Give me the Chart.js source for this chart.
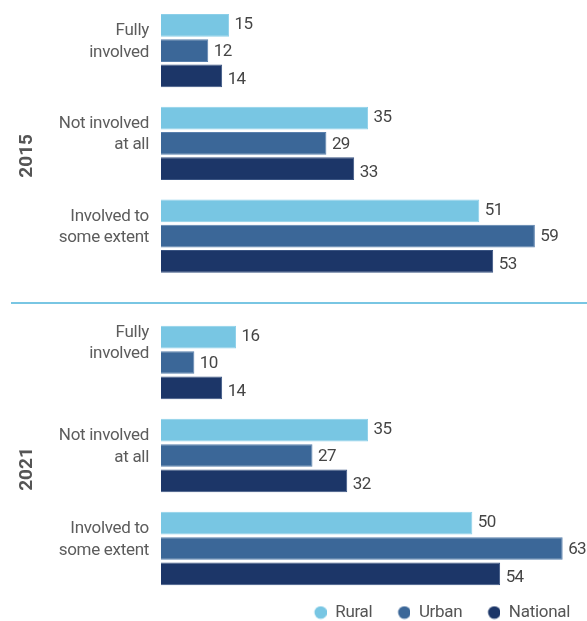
<!DOCTYPE html>
<html><head><meta charset="utf-8">
<script src="https://cdn.jsdelivr.net/npm/chart.js@4.4.1/dist/chart.umd.min.js"></script>
<style>
html,body{margin:0;padding:0;background:#fff;overflow:hidden;width:587px;height:621px;}
#w1{position:absolute;left:0;top:0;width:587px;height:290px;}
#w2{position:absolute;left:0;top:300px;width:587px;height:331px;}
#sep{position:absolute;left:11px;top:302px;width:576px;height:2px;background:#79c6e3;}
</style></head><body>
<div id="w1"><canvas id="c1"></canvas></div>
<div id="sep"></div>
<div id="w2"><canvas id="c2"></canvas></div>
<script>
// ---- data ----
const categories = [['Fully','involved'],['Not involved','at all'],['Involved to','some extent']];
const seriesNames = ['Rural','Urban','National'];
const years = ['2015','2021'];
const rural2015 = [15, 35, 51];
const urban2015 = [12, 29, 59];
const national2015 = [14, 33, 53];
const rural2021 = [16, 35, 50];
const urban2021 = [10, 27, 63];
const national2021 = [14, 32, 54];

// ---- style ----
const FONT = "'Liberation Sans Narrow', 'Roboto', sans-serif";
const LS = '-0.3px';
const colors = ['#78c6e3', '#3b6798', '#1c3668'];
const borders = ['#8ccfe9', '#5a80ad', '#3a5482'];
Chart.defaults.font.family = FONT;
Chart.defaults.font.size = 17;

const spacingPlugin = {
  id: 'spacing',
  beforeLayout(chart){ chart.ctx.letterSpacing = LS; },
  beforeDraw(chart){ chart.ctx.letterSpacing = LS; }
};
const valuePlugin = {
  id: 'valueLabels',
  afterDatasetsDraw(chart, args, opts){
    const ctx = chart.ctx;
    ctx.save();
    ctx.letterSpacing = '-0.6px';
    ctx.font = '17px ' + FONT;
    ctx.fillStyle = '#454545';
    ctx.textAlign = 'left';
    ctx.textBaseline = 'middle';
    chart.data.datasets.forEach((ds, i) => {
      const meta = chart.getDatasetMeta(i);
      meta.data.forEach((el, j) => {
        ctx.fillText(String(ds.data[j]), el.x + 5.5, el.y + opts.dy[i]);
      });
    });
    ctx.restore();
  }
};
const yearPlugin = {
  id: 'yearLabel',
  afterDraw(chart, args, opts){
    const ctx = chart.ctx, a = chart.chartArea;
    ctx.save();
    ctx.letterSpacing = '0px';
    ctx.translate(27, (a.top + a.bottom) / 2 + opts.shift);
    ctx.rotate(-Math.PI / 2);
    ctx.font = 'bold 19px ' + FONT;
    ctx.fillStyle = '#555555';
    ctx.textAlign = 'center';
    ctx.textBaseline = 'middle';
    ctx.fillText(opts.text, 0, 0);
    ctx.restore();
  }
};

function marker(color){
  const c = document.createElement('canvas');
  c.width = 29; c.height = 14;
  const g = c.getContext('2d');
  g.fillStyle = color;
  g.beginPath(); g.arc(23, 7, 6.3, 0, Math.PI * 2); g.fill();
  return c;
}
const markers = colors.map(marker);

function makeChart(id, year, series, opt){
  return new Chart(document.getElementById(id), {
    type: 'bar',
    data: {
      labels: categories,
      datasets: seriesNames.map((n, i) => ({
        label: n, data: series[i],
        backgroundColor: colors[i], borderColor: borders[i], borderWidth: 1,
        categoryPercentage: 0.815, barPercentage: 0.9
      }))
    },
    options: {
      indexAxis: 'y', responsive: true, maintainAspectRatio: false, animation: false,
      devicePixelRatio: 1,
      layout: { padding: { top: opt.padTop, bottom: opt.padBottom, left: 0, right: 8 } },
      scales: {
        x: { display: false, min: 5.2, max: 65.35 },
        y: {
          grid: { display: false, drawTicks: false }, border: { display: false },
          ticks: { color: '#5c5c5c', padding: 12, autoSkip: false,
            labelOffset: opt.labelOffset,
            callback(value, index){
              const l = this.getLabelForValue(value);
              return (opt.raiseFirst && index === 0) ? l.concat(['']) : l;
            },
            font: { size: 17, lineHeight: 1.27 } },
          afterFit(s){ s.width = 161; s.paddingTop = 0; s.paddingBottom = 0; }
        }
      },
      plugins: {
        tooltip: { enabled: false },
        valueLabels: { dy: [-0.5, 1, 3.8] },
        yearLabel: { text: year, shift: opt.yearShift },
        legend: opt.legend ? {
          display: true, position: 'bottom', align: 'end',
          labels: {
            usePointStyle: true, pointStyleWidth: 29, boxHeight: 14,
            padding: 9, color: '#555555', font: { size: 17 },
            generateLabels(chart){
              const items = Chart.defaults.plugins.legend.labels.generateLabels(chart);
              items.forEach((it, i) => { it.pointStyle = markers[i]; });
              return items;
            }
          }
        } : { display: false }
      }
    },
    plugins: [spacingPlugin, valuePlugin, yearPlugin]
  });
}

makeChart('c1', years[0], [rural2015, urban2015, national2015],
  { padTop: 4.2, padBottom: 7.5, legend: false, yearShift: 12.5, labelOffset: -9, raiseFirst: false });
makeChart('c2', years[1], [rural2021, urban2021, national2021],
  { padTop: 16, padBottom: 0, legend: true, yearShift: 13.5, labelOffset: -8.5, raiseFirst: true });
</script>
</body></html>
